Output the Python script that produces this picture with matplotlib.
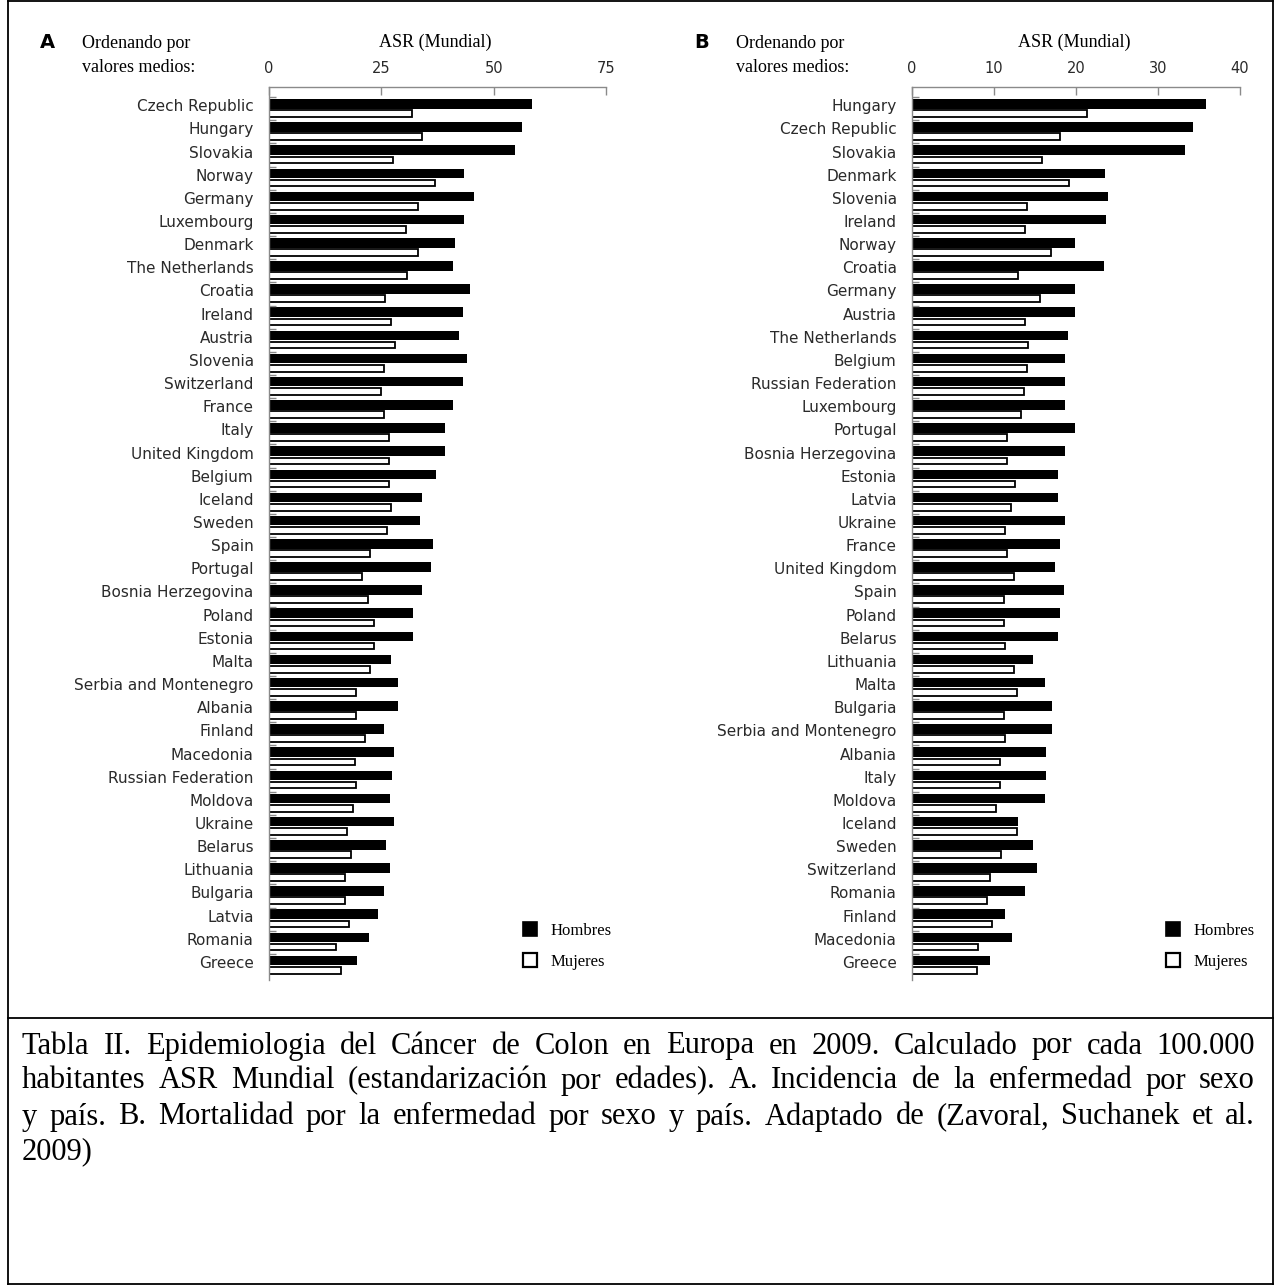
import matplotlib
matplotlib.use('Agg')
import matplotlib.pyplot as plt
from matplotlib.patches import Patch
from matplotlib.lines import Line2D

# A. Incidencia (ASR mundial) por sexo y país
paises_a = ['Czech Republic', 'Hungary', 'Slovakia', 'Norway', 'Germany', 'Luxembourg',
            'Denmark', 'The Netherlands', 'Croatia', 'Ireland', 'Austria', 'Slovenia',
            'Switzerland', 'France', 'Italy', 'United Kingdom', 'Belgium', 'Iceland',
            'Sweden', 'Spain', 'Portugal', 'Bosnia Herzegovina', 'Poland', 'Estonia',
            'Malta', 'Serbia and Montenegro', 'Albania', 'Finland', 'Macedonia',
            'Russian Federation', 'Moldova', 'Ukraine', 'Belarus', 'Lithuania',
            'Bulgaria', 'Latvia', 'Romania', 'Greece']
hombres_a = [58.5, 56.3, 54.7, 43.5, 45.7, 43.5, 41.4, 40.9, 44.8, 43.1, 42.3, 44.0,
             43.1, 40.9, 39.2, 39.2, 37.1, 34.1, 33.7, 36.6, 36.1, 34.1, 32.0, 32.0,
             27.2, 28.6, 28.6, 25.5, 27.8, 27.3, 26.9, 27.8, 26.0, 26.9, 25.6, 24.3,
             22.2, 19.5]
mujeres_a = [31.8, 34.0, 27.7, 37.0, 33.1, 30.5, 33.1, 30.7, 25.9, 27.1, 28.0, 25.5,
             25.0, 25.7, 26.7, 26.7, 26.7, 27.1, 26.3, 22.5, 20.7, 22.1, 23.3, 23.3,
             22.5, 19.4, 19.4, 21.3, 19.2, 19.4, 18.6, 17.3, 18.2, 16.9, 16.9, 17.8,
             14.8, 16.1]

# B. Mortalidad (ASR mundial) por sexo y país
paises_b = ['Hungary', 'Czech Republic', 'Slovakia', 'Denmark', 'Slovenia', 'Ireland',
            'Norway', 'Croatia', 'Germany', 'Austria', 'The Netherlands', 'Belgium',
            'Russian Federation', 'Luxembourg', 'Portugal', 'Bosnia Herzegovina',
            'Estonia', 'Latvia', 'Ukraine', 'France', 'United Kingdom', 'Spain',
            'Poland', 'Belarus', 'Lithuania', 'Malta', 'Bulgaria',
            'Serbia and Montenegro', 'Albania', 'Italy', 'Moldova', 'Iceland',
            'Sweden', 'Switzerland', 'Romania', 'Finland', 'Macedonia', 'Greece']
hombres_b = [35.9, 34.3, 33.3, 23.5, 23.9, 23.7, 19.9, 23.4, 19.9, 19.9, 19.0, 18.7,
             18.7, 18.7, 19.9, 18.7, 17.8, 17.8, 18.7, 18.0, 17.4, 18.5, 18.0, 17.8,
             14.7, 16.2, 17.1, 17.1, 16.4, 16.4, 16.2, 12.9, 14.7, 15.2, 13.8, 11.4,
             12.2, 9.5]
mujeres_b = [21.3, 18.0, 15.9, 19.2, 14.0, 13.8, 16.9, 12.9, 15.6, 13.8, 14.2, 14.0,
             13.6, 13.3, 11.6, 11.6, 12.6, 12.1, 11.4, 11.6, 12.4, 11.2, 11.2, 11.4,
             12.4, 12.8, 11.2, 11.4, 10.7, 10.7, 10.2, 12.8, 10.9, 9.5, 9.1, 9.8,
             8.1, 7.9]

ticks_a = [0, 25, 50, 75]
ticks_b = [0, 10, 20, 30, 40]

caption = [
    'Tabla II. Epidemiologia del Cáncer de Colon en Europa en 2009. Calculado por cada 100.000',
    'habitantes ASR Mundial (estandarización por edades). A. Incidencia de la enfermedad por sexo',
    'y país. B. Mortalidad por la enfermedad por sexo y país. Adaptado de (Zavoral, Suchanek et al.',
    '2009)',
]

W, H = 1275, 1285
fig = plt.figure(figsize=(W / 100, H / 100), dpi=100)
fig.patch.set_facecolor('white')

GRIS = '#8a8a8a'
TXT = '#2a2a2a'
SANS = 'DejaVu Sans'
SERIF = 'Liberation Serif'


def px(x, y):
    return x / W, 1 - y / H


def panel(rect, letra, lx, paises, hombres, mujeres, ticks):
    ax = fig.add_axes(rect)
    n = len(paises)
    pos = list(range(n))
    ax.barh([p - 0.21 for p in pos], hombres, height=0.41, color='black', lw=0)
    ax.barh([p + 0.21 for p in pos], mujeres, height=0.29, color='white',
            edgecolor='black', lw=1.3)
    ax.set_xlim(ticks[0], ticks[-1])
    ax.set_ylim(n - 0.37, -0.95)

    ax.xaxis.tick_top()
    ax.set_xticks(ticks)
    ax.set_xticklabels([str(t) for t in ticks], fontsize=10.5, color=TXT, family=SANS)
    ax.tick_params(axis='x', direction='in', length=6, width=1, color=GRIS, pad=8)

    ax.set_yticks([p - 0.15 for p in pos])
    ax.set_yticklabels(paises, fontsize=11, color=TXT, family=SANS)
    ax.tick_params(axis='y', length=0, pad=11)
    ax.set_yticks([p - 0.5 for p in pos], minor=True)
    ax.tick_params(axis='y', which='minor', direction='in', length=5, width=1, color=GRIS)

    for s in ('right', 'bottom'):
        ax.spines[s].set_visible(False)
    for s in ('top', 'left'):
        ax.spines[s].set_color(GRIS)
        ax.spines[s].set_linewidth(1)

    x0 = rect[0] * W
    x1 = (rect[0] + rect[2]) * W
    fig.text(*px((x0 + x1) / 2 - 2, 42), 'ASR (Mundial)', ha='center', va='center',
             fontsize=13, family=SERIF, color='black')
    fig.text(*px(lx, 43), letra, ha='left', va='center', fontsize=14,
             fontweight='bold', family=SANS, color='black')
    fig.text(*px(lx + 42, 44), 'Ordenando por', ha='left', va='center',
             fontsize=13, family=SERIF, color='black')
    fig.text(*px(lx + 42, 68), 'valores medios:', ha='left', va='center',
             fontsize=13, family=SERIF, color='black')

    handles = [Patch(facecolor='black', edgecolor='black', lw=1.2),
               Patch(facecolor='white', edgecolor='black', lw=1.6)]
    ax.legend(handles, ['Hombres', 'Mujeres'], loc='upper left',
              bbox_to_anchor=px(x0 + 254, 922), bbox_transform=fig.transFigure,
              frameon=False, prop={'family': SERIF, 'size': 12},
              handlelength=0.85, handleheight=0.95, handletextpad=0.8,
              labelspacing=0.85, borderpad=0, borderaxespad=0)
    return ax


ax_top, ax_bot = 86.7, 980
bottom = 1 - ax_bot / H
height = (ax_bot - ax_top) / H
panel([269 / W, bottom, 337 / W, height], 'A', 40, paises_a, hombres_a, mujeres_a, ticks_a)
panel([912 / W, bottom, 328 / W, height], 'B', 694, paises_b, hombres_b, mujeres_b, ticks_b)

# marco de la tabla
marco = [((8, 1), (1273, 1)), ((8, 1), (8, 1284)), ((1273, 1), (1273, 1284)),
         ((8, 1284), (1273, 1284)), ((8, 1018), (1273, 1018))]
for (xa, ya), (xb, yb) in marco:
    fig.add_artist(Line2D([xa / W, xb / W], [1 - ya / H, 1 - yb / H],
                          color='black', lw=1.3, transform=fig.transFigure))

# pie de tabla justificado
renderer = fig.canvas.get_renderer()
izq, der = 22, 1255
ys = [1046, 1081, 1117, 1152]
for i, (linea, y) in enumerate(zip(caption, ys)):
    palabras = linea.split(' ')
    textos = [fig.text(0, 1 - y / H, p, fontsize=22, family=SERIF, va='center',
                       color='black') for p in palabras]
    anchos = [t.get_window_extent(renderer).width for t in textos]
    if i < len(caption) - 1 and len(palabras) > 1:
        hueco = (der - izq - sum(anchos)) / (len(palabras) - 1)
    else:
        hueco = 7
    x = izq
    for t, a in zip(textos, anchos):
        t.set_x(x / W)
        x += a + hueco

fig.savefig('out.png', dpi=100, facecolor='white')
